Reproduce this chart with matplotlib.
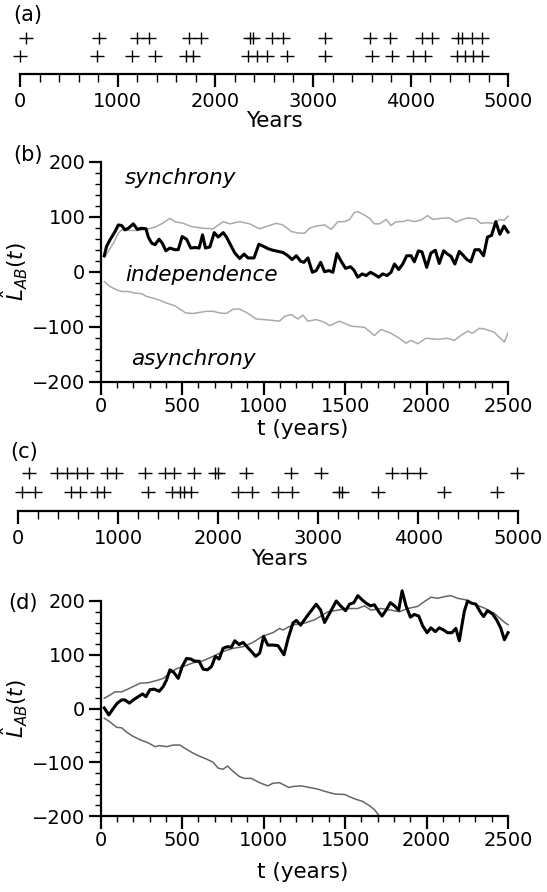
import numpy as np
import matplotlib
matplotlib.use('Agg')
import matplotlib.pyplot as plt
from matplotlib.path import Path
from matplotlib.ticker import MultipleLocator

plt.rcParams['font.family'] = ['DejaVu Sans']
plt.rcParams['mathtext.fontset'] = 'dejavusans'

# ---- event years, panels (a) and (c) ----
a_top = [61, 812, 1201, 1324, 1731, 1853, 2355, 2389, 2577, 2696, 3123, 3584,
         3789, 4113, 4216, 4482, 4523, 4625, 4728]
a_bottom = [0, 785, 1143, 1382, 1697, 1769, 2338, 2430, 2526, 2731, 3123, 3601,
            3806, 4028, 4147, 4472, 4557, 4642, 4728]
c_top = [107, 383, 483, 583, 690, 890, 973, 1267, 1467, 1557, 1760, 1967, 2000,
         2277, 2727, 3023, 3733, 3883, 4017, 4990]
c_bottom = [33, 167, 522, 617, 784, 857, 1300, 1534, 1617, 1660, 1727, 2200, 2333,
            2600, 2733, 3207, 3240, 3600, 4257, 4783]

# ---- panel (b) ----
b_obs_t = [22, 36, 57, 88, 108, 129, 149, 170, 200, 225, 251, 278, 292, 313, 333, 358,
           378, 400, 425, 455, 476, 500, 527, 553, 578, 604, 625, 643, 670, 697, 721,
           752, 772, 802, 823, 853, 880, 904, 941, 971, 1000, 1026, 1057, 1088, 1118,
           1150, 1175, 1201, 1227, 1247, 1272, 1299, 1323, 1350, 1374, 1401, 1425,
           1450, 1476, 1503, 1533, 1554, 1578, 1605, 1629, 1656, 1680, 1707, 1731,
           1758, 1782, 1803, 1829, 1854, 1878, 1905, 1925, 1950, 1972, 2001, 2027,
           2054, 2078, 2105, 2129, 2150, 2174, 2201, 2227, 2248, 2272, 2297, 2323,
           2350, 2374, 2399, 2425, 2450, 2475, 2500]
b_obs = [29, 46, 58, 73, 85, 84, 76, 79, 87, 77, 79, 78, 63, 52, 49, 59,
         52, 38, 43, 40, 40, 64, 59, 43, 44, 43, 67, 43, 45, 71, 63,
         71, 63, 46, 34, 24, 32, 25, 25, 50, 46, 42, 39, 37, 35,
         29, 22, 29, 19, 17, 25, -1, 2, 17, 0, 2, -1,
         33, 19, 6, 9, 3, -10, -4, -7, -1, -5, -10, -4,
         -7, -1, 14, 4, 14, 29, 29, 18, 38, 36, 8, 34,
         39, 15, 38, 32, 28, 14, 37, 29, 22, 18, 40, 40,
         29, 63, 66, 91, 68, 83, 72]

b_hi_t = [22, 47, 78, 108, 129, 159, 220, 282, 333, 374, 425, 455, 506, 557, 629, 690,
          752, 792, 853, 914, 975, 1016, 1078, 1118, 1150, 1170, 1221, 1252, 1282,
          1323, 1374, 1415, 1456, 1497, 1527, 1558, 1578, 1619, 1650, 1680, 1711,
          1752, 1782, 1813, 1854, 1885, 1925, 1966, 2007, 2037, 2088, 2139, 2180,
          2211, 2252, 2303, 2333, 2374, 2415, 2450, 2475, 2500]
b_hi = [26, 37, 52, 70, 76, 75, 75, 77, 81, 87, 97, 91, 88, 82, 79, 78,
        91, 87, 91, 87, 78, 82, 88, 85, 78, 73, 70, 70, 79,
        83, 85, 77, 91, 91, 95, 108, 109, 103, 97, 87, 87,
        95, 84, 91, 91, 94, 91, 94, 102, 95, 97, 98, 90,
        94, 98, 96, 88, 89, 88, 95, 93, 101]

b_lo_t = [22, 57, 98, 129, 170, 210, 251, 282, 322, 363, 404, 455, 486, 522, 567, 608,
          649, 690, 731, 772, 813, 853, 894, 955, 996, 1037, 1098, 1129, 1170, 1211,
          1241, 1272, 1323, 1374, 1405, 1466, 1537, 1619, 1680, 1721, 1782, 1833,
          1874, 1905, 1946, 1997, 2068, 2129, 2170, 2211, 2252, 2282, 2323, 2354,
          2415, 2477, 2500]
b_lo = [-18, -27, -33, -36, -36, -39, -40, -45, -48, -52, -57, -62, -68, -75, -76, -74,
        -72, -72, -75, -76, -68, -68, -74, -86, -87, -88, -90, -81, -78, -86,
        -79, -90, -87, -92, -98, -90, -99, -101, -116, -105, -112, -121,
        -130, -125, -131, -121, -123, -121, -125, -116, -108, -112, -103, -104,
        -110, -128, -111]

# ---- panel (d) ----
d_obs_t = [22, 50, 77, 102, 129, 149, 176, 200, 231, 257, 278, 302, 329, 359, 384, 404,
           425, 449, 476, 500, 527, 553, 578, 604, 629, 655, 680, 704, 727, 751, 778,
           802, 823, 849, 874, 898, 925, 951, 976, 1000, 1026, 1057, 1088, 1125, 1150,
           1180, 1201, 1227, 1272, 1323, 1350, 1374, 1401, 1446, 1472, 1503, 1527,
           1554, 1578, 1605, 1629, 1656, 1680, 1707, 1727, 1752, 1778, 1803, 1829,
           1850, 1874, 1901, 1925, 1952, 1976, 2003, 2027, 2054, 2078, 2105, 2129,
           2156, 2180, 2201, 2232, 2252, 2276, 2303, 2329, 2350, 2374, 2405, 2430,
           2455, 2478, 2500]
d_obs = [1, -12, 0, 10, 16, 16, 10, 16, 22, 27, 22, 35, 36, 32, 41, 53,
         72, 67, 56, 78, 93, 92, 88, 88, 73, 72, 78, 97, 92, 112, 115,
         114, 126, 119, 123, 115, 106, 97, 103, 134, 118, 118, 117, 100, 130,
         159, 164, 155, 174, 194, 183, 160, 175, 200, 191, 182, 194,
         197, 210, 202, 196, 191, 193, 180, 172, 183, 197, 191, 183,
         219, 191, 170, 175, 172, 154, 141, 150, 143, 150, 146, 141,
         141, 149, 126, 181, 200, 196, 194, 180, 171, 182, 176, 165,
         150, 128, 141]

d_hi_t = [22, 57, 88, 129, 159, 200, 241, 292, 343, 384, 425, 465, 506, 567, 629, 690,
          751, 813, 874, 935, 996, 1057, 1098, 1118, 1155, 1190, 1252, 1313, 1395,
          1456, 1517, 1578, 1619, 1660, 1721, 1782, 1833, 1885, 1946, 1987, 2027,
          2068, 2109, 2150, 2191, 2242, 2303, 2354, 2415, 2450, 2480, 2500]
d_hi = [19, 25, 31, 31, 35, 41, 47, 48, 52, 56, 66, 74, 78, 85, 89, 97,
        106, 112, 115, 123, 135, 141, 149, 146, 152, 156, 159, 165, 180,
        183, 186, 186, 191, 183, 186, 183, 180, 186, 190, 199, 207,
        205, 208, 210, 205, 202, 193, 187, 177, 168, 160, 156]

d_lo_t = [22, 57, 98, 129, 159, 200, 241, 292, 333, 363, 404, 445, 486, 527, 567, 608,
          649, 690, 721, 751, 778, 813, 853, 884, 925, 975, 1026, 1057, 1098, 1155,
          1180, 1231, 1282, 1333, 1374, 1435, 1497, 1558, 1609, 1650, 1680, 1705, 1712]
d_lo = [-18, -25, -35, -36, -44, -52, -58, -64, -71, -69, -71, -68, -68, -76, -83, -89,
        -94, -100, -111, -113, -107, -117, -127, -130, -130, -138, -144, -139, -138, -147,
        -145, -144, -147, -150, -154, -159, -160, -168, -173, -181, -188, -198, -200]

W, H = 547, 892


def box(x0, y0, x1, y1):
    # pixel box (top-left origin) -> figure fraction
    return [x0 / W, 1 - y1 / H, (x1 - x0) / W, (y1 - y0) / H]


# wide '+' (the original figure is stretched horizontally)
plus = Path([(-1.0, 0), (1.0, 0), (0, -0.76), (0, 0.76)],
            [Path.MOVETO, Path.LINETO, Path.MOVETO, Path.LINETO])


def raster(ax, top, bottom, label_y):
    ax.plot(top, [2] * len(top), ls='none', marker=plus, ms=10.5, mew=1.0,
            color='k', clip_on=False)
    ax.plot(bottom, [1] * len(bottom), ls='none', marker=plus, ms=10.5, mew=1.0,
            color='k', clip_on=False)
    ax.set_xlim(0, 5000)
    ax.set_ylim(0, 3)
    for s in ['top', 'left', 'right']:
        ax.spines[s].set_visible(False)
    ax.spines['bottom'].set_linewidth(1.6)
    ax.set_yticks([])
    ax.xaxis.set_major_locator(MultipleLocator(1000))
    ax.xaxis.set_minor_locator(MultipleLocator(200))
    ax.tick_params(axis='x', which='major', direction='out', length=9, width=1.6,
                   labelsize=14, pad=4)
    ax.tick_params(axis='x', which='minor', direction='out', length=5.5, width=1)
    ax.set_xlabel('Years', fontsize=15.5)
    ax.xaxis.set_label_coords(0.522, label_y)
    ax.xaxis.label.set_va('center')


def curves(ax, obs_t, obs, hi_t, hi, lo_t, lo, gray, xlab_y):
    # upper envelope and observed curve may poke above the 200 limit
    ax.plot(hi_t, hi, color=gray, lw=1.1, clip_on=False)
    ax.plot(lo_t, lo, color=gray, lw=1.1)
    ax.plot(obs_t, obs, color='k', lw=2.2, zorder=3, clip_on=False)
    ax.set_xlim(0, 2500)
    ax.set_ylim(-200, 200)
    for s in ['top', 'right']:
        ax.spines[s].set_visible(False)
    for s in ['left', 'bottom']:
        ax.spines[s].set_linewidth(1.6)
    ax.xaxis.set_major_locator(MultipleLocator(500))
    ax.xaxis.set_minor_locator(MultipleLocator(100))
    ax.yaxis.set_major_locator(MultipleLocator(100))
    ax.yaxis.set_minor_locator(MultipleLocator(20))
    ax.tick_params(which='major', direction='out', length=9, width=1.6,
                   labelsize=14, pad=2)
    ax.tick_params(which='minor', direction='out', length=4.5, width=1)
    ax.set_xlabel('t (years)', fontsize=15.5)
    ax.xaxis.set_label_coords(0.497, xlab_y)
    ax.xaxis.label.set_va('center')
    ax.set_ylabel(r'$\hat{L}_{AB}(t)$', fontsize=15.5)
    ax.yaxis.set_label_coords(-0.174, 0.5)


fig = plt.figure(figsize=(W / 100, H / 100), dpi=100)

ax_a = fig.add_axes(box(20, 20, 508.3, 74))
raster(ax_a, a_top, a_bottom, -0.87)

ax_b = fig.add_axes(box(100.7, 161.7, 508, 381.7))
curves(ax_b, b_obs_t, b_obs, b_hi_t, b_hi, b_lo_t, b_lo, '#aaaaaa', -0.215)
ax_b.text(0.195, 0.925, 'synchrony', transform=ax_b.transAxes, ha='center',
          va='center', fontsize=15.5, style='italic')
ax_b.text(0.248, 0.485, 'independence', transform=ax_b.transAxes, ha='center',
          va='center', fontsize=15.5, style='italic')
ax_b.text(0.227, 0.102, 'asynchrony', transform=ax_b.transAxes, ha='center',
          va='center', fontsize=15.5, style='italic')

ax_c = fig.add_axes(box(18.3, 454, 518.3, 511))
raster(ax_c, c_top, c_bottom, -0.842)

ax_d = fig.add_axes(box(100.7, 601, 508, 816))
curves(ax_d, d_obs_t, d_obs, d_hi_t, d_hi, d_lo_t, d_lo, '#666666', -0.26)

for lab, x, y in [('(a)', 28, 15), ('(b)', 28, 155), ('(c)', 24, 452), ('(d)', 23, 603)]:
    fig.text(x / W, 1 - y / H, lab, ha='center', va='center', fontsize=15)

fig.savefig('out.png', dpi=100)
